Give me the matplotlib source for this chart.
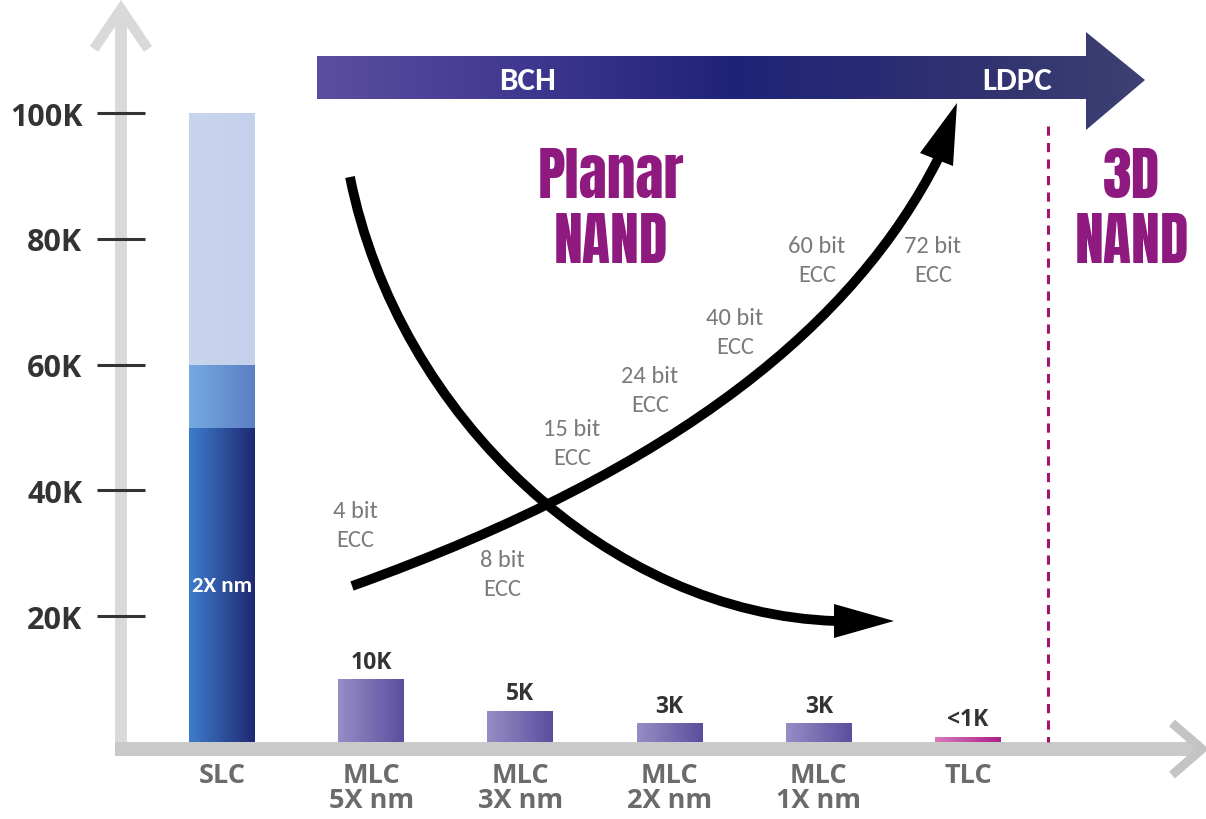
import numpy as np
import matplotlib
matplotlib.use("Agg")
import matplotlib.pyplot as plt
from matplotlib import font_manager as fm
from matplotlib.colors import LinearSegmentedColormap
from matplotlib.patches import Polygon, PathPatch
from matplotlib.path import Path

plt.rcParams['font.family'] = ['Open Sans', 'DejaVu Sans']

# ---------------- data ----------------
categories = ["SLC", "MLC\n5X nm", "MLC\n3X nm", "MLC\n2X nm", "MLC\n1X nm", "TLC"]
endurance = [100000, 10000, 5000, 3000, 3000, 800]
endurance_labels = ["", "10K", "5K", "3K", "3K", "<1K"]
slc_levels = [50000, 60000, 100000]          # stacked SLC segment tops
slc_note = "2X nm"
ytick_values = [20000, 40000, 60000, 80000, 100000]
ytick_labels = ["20K", "40K", "60K", "80K", "100K"]
ecc_bits = [4, 8, 15, 24, 40, 60, 72]
ecc_names = ["BCH", "LDPC"]
regions = ["Planar\nNAND", "3D\nNAND"]

# ---------------- fonts ----------------
_names = {f.name for f in fm.fontManager.ttflist}


def pick(cands, default='DejaVu Sans'):
    return next((c for c in cands if c in _names), default)


TITLE_FONT = pick(['Anton', 'Oswald', 'PT Sans Narrow', 'Open Sans Condensed',
                   'IBM Plex Sans Condensed'])
SMALL_FONT = pick(['Carlito', 'Open Sans'])

# ---------------- layout (pixels) ----------------
W, H = 1206, 820
fig = plt.figure(figsize=(W / 100, H / 100), dpi=100)
renderer = fig.canvas.get_renderer()


def fit_size(text, width_px, **kw):
    t = fig.text(0, 0, text, fontsize=20, **kw)
    w = t.get_window_extent(renderer).width
    t.remove()
    return 20.0 * width_px / w


deco = fig.add_axes([0, 0, 1, 1], zorder=0)
deco.set_xlim(0, W)
deco.set_ylim(H, 0)
deco.axis('off')

AX_LEFT, BASE_Y = 121, 743
CAT0_PX, CAT_PX = 101, 149.2
PX_PER_UNIT = 6.29 / 1000.0
ax = fig.add_axes([AX_LEFT / W, (H - BASE_Y) / H, (W - AX_LEFT) / W, BASE_Y / H], zorder=1)
ax.patch.set_alpha(0)


def grad(axis, patch, c1, c2, z, stops=None):
    cmap = LinearSegmentedColormap.from_list('g', stops if stops else [c1, c2])
    ext = patch.get_extents().transformed(axis.transData.inverted())
    im = axis.imshow(np.linspace(0, 1, 256).reshape(1, -1), cmap=cmap, aspect='auto',
                     extent=[ext.x0, ext.x1, ext.y0, ext.y1], zorder=z,
                     interpolation='bicubic')
    im.set_clip_path(patch)
    return im


# ---------------- decorative axes (gray arrows) ----------------
gray_v = '#d9d9d9'
gray_h = '#c9c9c9'
deco.plot([121, 121], [757, 12], color=gray_v, lw=8.6, solid_capstyle='butt', zorder=1)
deco.plot([94, 121, 148], [50, 10, 50], color=gray_v, lw=7.2, solid_joinstyle='miter',
          solid_capstyle='butt', zorder=1)
deco.plot([115, 1198], [750, 750], color=gray_h, lw=10, solid_capstyle='butt', zorder=1)
deco.plot([1172, 1202, 1172], [724, 750, 776], color='#c4c4c4', lw=6.5,
          solid_joinstyle='miter', solid_capstyle='butt', zorder=1)

# dashed separator
deco.plot([1048, 1048], [127, 743], color='#a3156b', lw=2.2, dashes=(3.0, 2.4), zorder=2)

# top banner arrow
banner = Polygon([(317, 57), (1086, 57), (1086, 33), (1145, 81), (1086, 131),
                  (1086, 100), (317, 100)], closed=True, facecolor='none',
                 edgecolor='none', zorder=2)
deco.add_patch(banner)
grad(deco, banner, None, None, 2,
     stops=[(0.0, '#5b4ea0'), (0.2, '#463c94'), (0.5, '#1f2378'),
            (0.78, '#2f3170'), (1.0, '#3d4072')])
bfs = fit_size(ecc_names[0], 57, family=[SMALL_FONT, 'DejaVu Sans'], fontweight='bold')
for cx, name in zip([528, 1017], ecc_names):
    deco.text(cx, 90, name, color='white', fontsize=bfs, fontweight='bold',
              family=[SMALL_FONT, 'DejaVu Sans'], ha='center', va='baseline', zorder=3)

# region titles
tfs = fit_size("Planar", 146, family=[TITLE_FONT, 'DejaVu Sans'], fontweight='bold')
for cx, txt in zip([611, 1132], regions):
    top, bot = txt.split("\n")
    for yy, t in [(198, top), (263, bot)]:
        deco.text(cx, yy, t, color='#8e1a7f', fontsize=tfs, fontweight='bold',
                  family=[TITLE_FONT, 'DejaVu Sans'],
                  ha='center', va='baseline', zorder=3)

# curved trend arrows
curve_lw = 7.0
p1 = Path([(350, 178), (398, 418), (610, 615), (836, 622)],
          [Path.MOVETO, Path.CURVE4, Path.CURVE4, Path.CURVE4])
deco.add_patch(PathPatch(p1, facecolor='none', edgecolor='black', lw=curve_lw,
                         capstyle='butt', zorder=4))
deco.add_patch(Polygon([(834, 605), (894, 622), (834, 639)], closed=True,
                       facecolor='black', edgecolor='none', zorder=4))
p2 = Path([(352, 587), (682, 469), (856, 322), (938, 160)],
          [Path.MOVETO, Path.CURVE4, Path.CURVE4, Path.CURVE4])
deco.add_patch(PathPatch(p2, facecolor='none', edgecolor='black', lw=curve_lw,
                         capstyle='butt', zorder=4))
deco.add_patch(Polygon([(920, 154), (957, 104), (953, 167)], closed=True,
                       facecolor='black', edgecolor='none', zorder=4))

# ECC labels (x centre, baseline of first line)
ecc_pos = [(355, 518), (502, 567), (572, 436), (650, 383), (735, 325), (817, 253), (933, 253)]
efs = fit_size("15 bit", 57, family=[SMALL_FONT, 'DejaVu Sans'])
for b, (px, py) in zip(ecc_bits, ecc_pos):
    deco.text(px, py, f"{b} bit", color='#7a7a7a', fontsize=efs,
              family=[SMALL_FONT, 'DejaVu Sans'], ha='center', va='baseline', zorder=3)
    deco.text(px, py + 29, "ECC", color='#7a7a7a', fontsize=efs,
              family=[SMALL_FONT, 'DejaVu Sans'], ha='center', va='baseline', zorder=3)

deco.set_xlim(0, W)
deco.set_ylim(H, 0)

# ---------------- main bar axes ----------------
x = np.arange(len(categories))
bw = 66 / CAT_PX

# SLC stacked bar
slc_cols = [('#3e7dcd', '#1f2870'), ('#76aae0', '#5a7fc5'), ('#c9d5ed', '#c5d1ea')]
bottoms = [0] + slc_levels[:-1]
for bot, top, (c1, c2) in zip(bottoms, slc_levels, slc_cols):
    r = ax.bar(x[0], top - bot, bottom=bot, width=bw, color='none', edgecolor='none')[0]
    grad(ax, r, c1, c2, 2)
nfs = fit_size(slc_note, 60, family=[SMALL_FONT, 'DejaVu Sans'], fontweight='bold')
ax.text(x[0], 25000, slc_note, color='white', fontsize=nfs, fontweight='bold',
        family=[SMALL_FONT, 'DejaVu Sans'], ha='center', va='center', zorder=3)

# MLC / TLC bars
bars = ax.bar(x[1:], endurance[1:], width=bw, color='none', edgecolor='none')
for i, r in enumerate(bars, start=1):
    if categories[i] == "TLC":
        grad(ax, r, '#d67abc', '#ad1f88', 2)
    else:
        grad(ax, r, '#968ec5', '#5b4e9e', 2)
    ax.annotate(endurance_labels[i], (x[i], endurance[i]), xytext=(0, 4),
                textcoords='offset points', ha='center', va='bottom',
                fontsize=16.5, fontweight='bold', color='#333333', zorder=3)

ax.set_xlim(-CAT0_PX / CAT_PX, (W - AX_LEFT - CAT0_PX) / CAT_PX)
ax.set_ylim(0, BASE_Y / PX_PER_UNIT)

for s in ax.spines.values():
    s.set_visible(False)

ax.set_yticks(ytick_values, ytick_labels)
ax.tick_params(axis='y', direction='inout', length=34.6, width=2.2, color='#333333',
               pad=10.5, labelsize=22, labelcolor='#333333')
for t in ax.get_yticklabels():
    t.set_fontweight('bold')

ax.set_xticks(x, categories)
ax.tick_params(axis='x', length=0, pad=14.5, labelsize=19.5, labelcolor='#6b6b6b')
for t in ax.get_xticklabels():
    t.set_fontweight('bold')
    t.set_linespacing(0.95)

fig.savefig("out.png", dpi=100)
